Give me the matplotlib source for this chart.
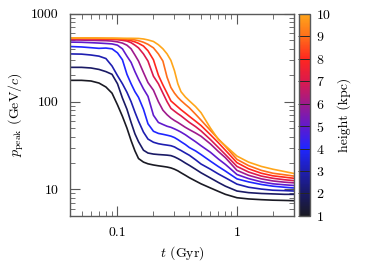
import matplotlib
matplotlib.use('Agg')
import matplotlib.pyplot as plt
import numpy as np
from matplotlib.colors import LinearSegmentedColormap, Normalize
from matplotlib.cm import ScalarMappable
from matplotlib.ticker import FuncFormatter, LogLocator, NullFormatter

plt.rcParams['font.family'] = 'serif'
plt.rcParams['font.serif'] = ['cmr10']
plt.rcParams['mathtext.fontset'] = 'cm'
plt.rcParams['axes.formatter.use_mathtext'] = True

# time grid (Gyr)
t = [0.04, 0.05, 0.06, 0.07, 0.08, 0.09, 0.10, 0.11, 0.12, 0.13, 0.14, 0.15,
     0.165, 0.18, 0.20, 0.22, 0.24, 0.26, 0.28, 0.30, 0.32, 0.34, 0.37, 0.40,
     0.45, 0.50, 0.60, 0.70, 0.80, 1.0, 1.25, 1.6, 2.0, 2.5, 3.0]

heights = [1, 2, 3, 4, 5, 6, 7, 8, 9, 10]

# peak momentum (GeV/c), one curve per height
p_h1 = [175, 175, 172, 163, 147, 125, 92, 68, 50, 36, 27.5, 22.5,
        20.5, 19.6, 19.0, 18.6, 18.3, 18.0, 17.6, 17.0, 16.3, 15.5, 14.5, 13.6,
        12.5, 11.6, 10.4, 9.5, 8.8, 8.05, 7.8, 7.65, 7.55, 7.5, 7.45]
p_h2 = [246, 246, 242, 233, 220, 205, 160, 110, 82, 58, 43, 35,
        28, 26, 25.3, 25, 24.8, 24.6, 24.3, 23.5, 22.5, 21.5, 20, 18.8,
        17, 15.5, 13.5, 12.0, 10.9, 9.6, 9.2, 9.0, 8.9, 8.8, 8.8]
p_h3 = [350, 348, 340, 330, 310, 255, 198, 160, 128, 100, 76, 60,
        45, 37.5, 34.5, 33.2, 32.5, 32, 31.5, 30.5, 29, 27.8, 26, 24.5,
        21.8, 19.5, 17.0, 15.0, 13.6, 11.5, 10.6, 10.1, 9.8, 9.7, 9.6]
p_h4 = [425, 420, 412, 405, 408, 400, 360, 300, 205, 160, 130, 112,
        82, 56, 46, 43.5, 42.5, 41.5, 40.5, 39, 37, 35, 32.5, 30,
        27.5, 25, 21.0, 18.2, 16.2, 13.2, 12.2, 11.4, 10.9, 10.6, 10.4]
p_h5 = [477, 475, 470, 465, 460, 455, 440, 400, 330, 280, 220, 180,
        140, 115, 70, 58, 55, 52.5, 51, 49, 47, 45, 42, 39,
        35, 31.5, 26.5, 22.2, 19.3, 14.8, 13.3, 12.2, 11.6, 11.3, 11.1]
p_h6 = [505, 503, 500, 497, 495, 490, 480, 465, 440, 400, 340, 290,
        215, 165, 135, 100, 80, 71, 65, 61, 58, 55, 51, 48,
        44, 40.4, 33, 27, 23, 16.5, 14.5, 13.2, 12.5, 12.1, 11.9]
p_h7 = [520, 520, 518, 516, 514, 512, 508, 500, 490, 470, 440, 410,
        350, 290, 195, 160, 125, 100, 84, 78, 73, 69, 63, 58,
        52, 46.5, 37, 30, 25, 18.3, 15.8, 14.2, 13.4, 12.9, 12.6]
p_h8 = [525, 525, 524, 522, 520, 518, 515, 512, 505, 495, 480, 462,
        430, 380, 300, 200, 155, 125, 102, 94, 87, 81, 74, 68,
        60, 53.5, 42, 34, 28, 20.2, 17.2, 15.3, 14.3, 13.8, 13.4]
p_h9 = [528, 528, 527, 526, 525, 524, 522, 520, 518, 512, 505, 495,
        475, 450, 410, 350, 290, 190, 145, 125, 112, 103, 93, 85,
        72, 61.7, 47, 37.5, 31, 22, 18.7, 16.5, 15.3, 14.7, 14.2]
p_h10 = [532, 532, 532, 531, 530, 530, 529, 528, 527, 527, 526, 525,
         518, 505, 485, 445, 400, 350, 295, 225, 160, 130, 113, 102,
         88, 75, 50, 37, 31.5, 24, 20.5, 18.3, 17.0, 16.0, 15.2]

curves = [p_h1, p_h2, p_h3, p_h4, p_h5, p_h6, p_h7, p_h8, p_h9, p_h10]

# colour ramp: black -> navy -> blue -> violet -> red -> orange
cmap = LinearSegmentedColormap.from_list('height', [
    (0.00, (0.10, 0.10, 0.14)),
    (1/9, (0.10, 0.10, 0.40)),
    (2/9, (0.12, 0.12, 0.70)),
    (3/9, (0.12, 0.15, 1.00)),
    (4/9, (0.38, 0.10, 0.80)),
    (5/9, (0.62, 0.10, 0.55)),
    (6/9, (0.86, 0.10, 0.30)),
    (7/9, (1.00, 0.15, 0.12)),
    (8/9, (1.00, 0.43, 0.10)),
    (1.00, (1.00, 0.65, 0.10)),
])
norm = Normalize(vmin=1, vmax=10)

fig = plt.figure(figsize=(3.74, 2.62), dpi=100)
ax = fig.add_axes([0.187, 0.176, 0.599, 0.771])
cax = fig.add_axes([0.799, 0.176, 0.031, 0.771])

for h, p in zip(heights, curves):
    ax.plot(t, p, color=cmap(norm(h)), lw=1.2)

ax.set_xscale('log')
ax.set_yscale('log')
ax.set_xlim(0.04, 3.0)
ax.set_ylim(5, 1000)

fmt = FuncFormatter(lambda v, pos: f'{v:g}')
ax.xaxis.set_major_formatter(fmt)
ax.yaxis.set_major_formatter(fmt)
ax.xaxis.set_minor_formatter(NullFormatter())
ax.yaxis.set_minor_formatter(NullFormatter())
ax.xaxis.set_minor_locator(LogLocator(base=10, subs=np.arange(2, 10)))
ax.yaxis.set_minor_locator(LogLocator(base=10, subs=np.arange(2, 10)))

ax.tick_params(which='both', direction='in', top=True, right=True,
               labelsize=10, color='0.35')
ax.tick_params(which='major', length=7, width=0.8, pad=8)
ax.tick_params(which='minor', length=3.5, width=0.6)
for s in ax.spines.values():
    s.set_color('0.35')
    s.set_linewidth(1.0)

ax.set_xlabel(r'$t$ (Gyr)', fontsize=10, labelpad=4)
ax.set_ylabel(r'$p_{\rm peak}$ (GeV$/c$)', fontsize=10, labelpad=4)

sm = ScalarMappable(norm=norm, cmap=cmap)
cb = fig.colorbar(sm, cax=cax, ticks=heights)
cb.outline.set_edgecolor('0.35')
cb.outline.set_linewidth(1.0)
cax.tick_params(direction='in', length=8.6, width=0.7, color='0.15',
                labelsize=10, pad=4)
cb.set_label('height (kpc)', fontsize=10, labelpad=4)

fig.savefig('out.png', dpi=100)
